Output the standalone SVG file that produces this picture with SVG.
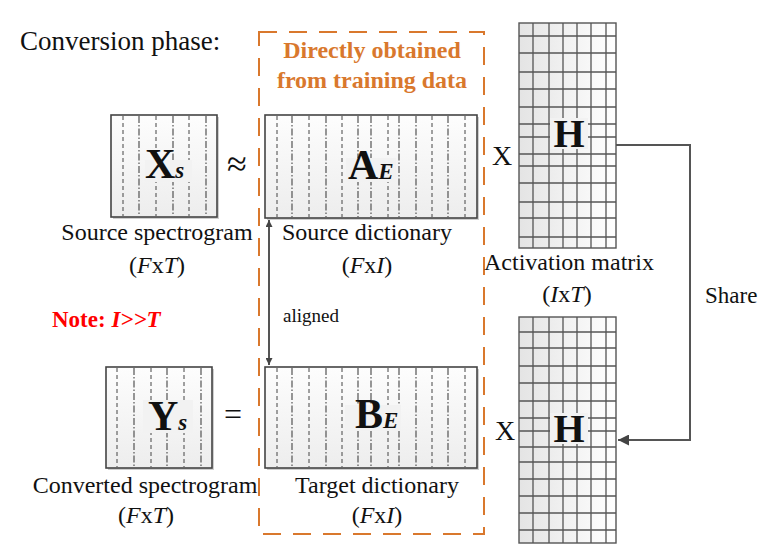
<svg xmlns="http://www.w3.org/2000/svg" width="769" height="549" viewBox="0 0 769 549">
<style>
text{font-family:"Liberation Serif","Times New Roman",serif;fill:#111}
.lbl{font-size:24px}
.big{font-size:42px;font-weight:bold}
.sub{font-size:23px;font-weight:bold;font-style:italic}
.hh{font-size:40px;font-weight:bold}
.it{font-style:italic}
.box{fill:url(#boxg);stroke:#444;stroke-width:1.6}
.shadow{fill:#cfcfcf}
.d1{stroke:#444;stroke-width:1;stroke-dasharray:4 3;fill:none}
.d2{stroke:#444;stroke-width:1.1;stroke-dasharray:7 2 1.5 2;fill:none}
.grid{stroke:#555;stroke-width:1.3;fill:none}
.hbox{fill:url(#hg);stroke:#555;stroke-width:1.4}
.patch{fill:#f2f2f2}
.conn{stroke:#555;stroke-width:2;fill:none}
.orange{fill:#D9782D;font-weight:bold;font-size:24px}
</style>
<defs>
<linearGradient id="boxg" x1="0" y1="0" x2="0" y2="1">
<stop offset="0" stop-color="#fdfdfd"/><stop offset="1" stop-color="#ededed"/>
</linearGradient>
<linearGradient id="hg" x1="0" y1="0" x2="1" y2="0">
<stop offset="0" stop-color="#e4e4e4"/><stop offset="1" stop-color="#ffffff"/>
</linearGradient>
<marker id="ah" viewBox="0 0 10 10" refX="10" refY="5" markerWidth="8" markerHeight="7" orient="auto-start-reverse" markerUnits="userSpaceOnUse">
<path d="M0,0 L10,5 L0,10 z" fill="#444"/>
</marker>
<marker id="ah2" viewBox="0 0 10 10" refX="10" refY="5" markerWidth="12" markerHeight="11" orient="auto" markerUnits="userSpaceOnUse">
<path d="M0,0 L10,5 L0,10 z" fill="#444"/>
</marker>
</defs>
<rect width="769" height="549" fill="#fff"/>

<g id="title"><text x="20" y="50" style="font-size:27px">Conversion phase:</text></g>

<g id="training-box">
<rect x="259" y="32" width="225" height="502" fill="none" stroke="#D9782D" stroke-width="2" stroke-dasharray="18 12"/>
<text class="orange" x="372" y="58" text-anchor="middle">Directly obtained</text>
<text class="orange" x="372" y="88" text-anchor="middle">from training data</text>
</g>

<g id="Xs">
<rect class="shadow" x="113" y="117" width="106" height="102"/>
<rect class="box" x="111" y="115" width="106" height="102"/>
<path class="d1" d="M123,116V216M156,116V216M189,116V216"/>
<path class="d2" d="M139,116V216M173,116V216M206,116V216"/>
<rect class="patch" x="145" y="160" width="47" height="22"/>
<text x="145" y="178"><tspan class="big">X</tspan><tspan class="sub">s</tspan></text>
<text class="lbl" x="157" y="240" text-anchor="middle">Source spectrogram</text>
<text class="lbl" x="157" y="273" text-anchor="middle">(<tspan class="it">F</tspan>x<tspan class="it">T</tspan>)</text>
</g>

<g id="approx"><text x="237" y="176" text-anchor="middle" style="font-size:36px">≈</text></g>

<g id="AE">
<rect class="shadow" x="267" y="117" width="212" height="103"/>
<rect class="box" x="265" y="115" width="212" height="103"/>
<path class="d1" d="M277,116V217M309,116V217M342,116V217M388,116V217M432,116V217M465,116V217"/>
<path class="d2" d="M292,116V217M326,116V217M358,116V217M371,116V217M399,116V217M416,116V217M448,116V217"/>
<rect class="patch" x="346" y="158" width="50" height="24"/>
<text x="348" y="179"><tspan class="big">A</tspan><tspan class="sub">E</tspan></text>
<text class="lbl" x="367" y="240" text-anchor="middle">Source dictionary</text>
<text class="lbl" x="367" y="273" text-anchor="middle">(<tspan class="it">F</tspan>x<tspan class="it">I</tspan>)</text>
</g>

<g id="X1"><text x="492" y="165" style="font-size:28px">X</text></g>

<g id="H1">
<rect class="hbox" x="519" y="23" width="97" height="225"/>
<path class="grid" d="M533,23V248M549,23V248M563,23V248M577,23V248M591,23V248M606,23V248M519,36H616M519,53H616M519,72H616M519,89H616M519,107H616M519,124H616M519,137H616M519,154H616M519,166H616M519,183H616M519,202H616M519,218H616M519,237H616"/>
<rect class="patch" x="550" y="118" width="38" height="31"/>
<text class="hh" x="569" y="147" text-anchor="middle">H</text>
<text class="lbl" x="569" y="270" text-anchor="middle">Activation matrix</text>
<text class="lbl" x="567" y="302" text-anchor="middle">(<tspan class="it">I</tspan>x<tspan class="it">T</tspan>)</text>
</g>

<g id="note"><text x="52" y="327" style="font-size:23px;font-weight:bold;fill:#ff0000">Note: <tspan class="it">I&gt;&gt;T</tspan></text></g>

<g id="Ys">
<rect class="shadow" x="108" y="369" width="106" height="101"/>
<rect class="box" x="106" y="367" width="106" height="101"/>
<path class="d1" d="M117,368V467M151,368V467M184,368V467"/>
<path class="d2" d="M134,368V467M167,368V467M201,368V467"/>
<rect class="patch" x="143" y="400" width="50" height="33"/>
<text x="148" y="430"><tspan class="big">Y</tspan><tspan class="sub">s</tspan></text>
<text class="lbl" x="145" y="493" text-anchor="middle">Converted spectrogram</text>
<text class="lbl" x="146" y="523" text-anchor="middle">(<tspan class="it">F</tspan>x<tspan class="it">T</tspan>)</text>
</g>

<g id="equals"><text x="233" y="425" text-anchor="middle" style="font-size:32px">=</text></g>

<g id="BE">
<rect class="shadow" x="267" y="369" width="212" height="101"/>
<rect class="box" x="265" y="367" width="212" height="101"/>
<path class="d1" d="M277,368V467M309,368V467M342,368V467M388,368V467M432,368V467M465,368V467"/>
<path class="d2" d="M292,368V467M326,368V467M358,368V467M371,368V467M399,368V467M416,368V467M448,368V467"/>
<rect class="patch" x="345" y="405" width="56" height="26"/>
<text x="355" y="428"><tspan class="big">B</tspan><tspan class="sub">E</tspan></text>
<text class="lbl" x="377" y="493" text-anchor="middle">Target dictionary</text>
<text class="lbl" x="377" y="523" text-anchor="middle">(<tspan class="it">F</tspan>x<tspan class="it">I</tspan>)</text>
</g>

<g id="X2"><text x="495" y="440" style="font-size:28px">X</text></g>

<g id="H2">
<rect class="hbox" x="519" y="317" width="97" height="226"/>
<path class="grid" d="M533,317V543M549,317V543M563,317V543M577,317V543M591,317V543M606,317V543M519,332H616M519,348H616M519,366H616M519,383H616M519,401H616M519,418H616M519,431H616M519,447H616M519,462H616M519,479H616M519,496H616M519,513H616M519,530H616"/>
<rect class="patch" x="550" y="413" width="38" height="31"/>
<text class="hh" x="569" y="442" text-anchor="middle">H</text>
</g>

<g id="connectors">
<path class="conn" d="M269,220V365" stroke-width="1.5" marker-start="url(#ah)" marker-end="url(#ah)"/>
<text x="283" y="322" style="font-size:19px">aligned</text>
<path class="conn" d="M616,145H690V440H618" marker-end="url(#ah2)"/>
<text x="705" y="303" style="font-size:23px">Share</text>
</g>
</svg>
